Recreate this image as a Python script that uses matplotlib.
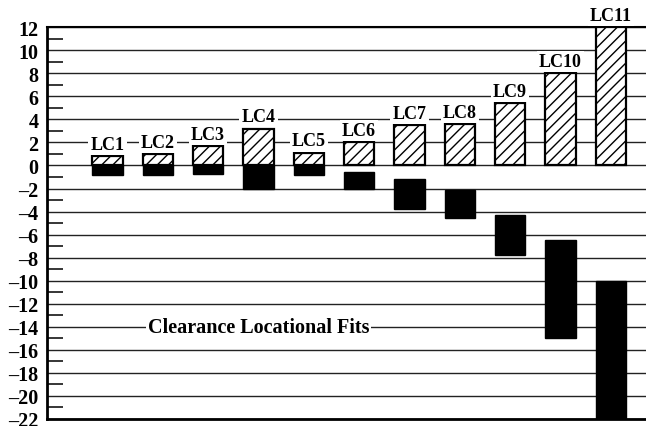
import matplotlib
matplotlib.use("Agg")
import matplotlib.pyplot as plt
from matplotlib.ticker import FixedLocator
import numpy as np

plt.rcParams['font.family'] = ['Liberation Serif', 'DejaVu Serif']
plt.rcParams['font.weight'] = 'bold'
plt.rcParams['hatch.linewidth'] = 1.0

labels = ["LC1", "LC2", "LC3", "LC4", "LC5", "LC6", "LC7", "LC8", "LC9", "LC10", "LC11"]
hole_upper = [0.8, 1.0, 1.7, 3.2, 1.1, 2.0, 3.5, 3.6, 5.4, 8.0, 12.0]
shaft_upper = [0, 0, 0, 0, 0, -0.6, -1.2, -2.1, -4.3, -6.5, -10.0]
shaft_lower = [-0.8, -0.8, -0.7, -2.0, -0.8, -2.0, -3.8, -4.6, -7.8, -15.0, -22.0]
y_ticks = list(range(-22, 13, 2))
title_text = "Clearance Locational Fits"

fig = plt.figure(figsize=(6.46, 4.27), dpi=100)
ax = fig.add_axes([0.0728, 0.0164, 0.9272, 0.9176])

x = np.arange(len(labels))
w = 0.6
ax.bar(x, hole_upper, width=w, bottom=0, facecolor='white', edgecolor='black',
       hatch='///', linewidth=1.6, zorder=3)
ax.bar(x, np.array(shaft_upper) - np.array(shaft_lower), width=w, bottom=shaft_lower,
       facecolor='black', edgecolor='black', linewidth=1.0, zorder=3)

for xi, lab, top in zip(x, labels, hole_upper):
    ax.annotate(lab, xy=(xi, top), xytext=(0, 8.5), textcoords='offset points',
                ha='center', va='center', fontsize=13, fontweight='bold',
                bbox=dict(facecolor='white', edgecolor='none', pad=1.5),
                zorder=5, annotation_clip=False)

ax.text(3.0, -14, title_text, ha='center', va='center', fontsize=14.5, fontweight='bold',
        bbox=dict(facecolor='white', edgecolor='none', pad=1.5), zorder=5)

ax.set_xlim(-1.2, 10.7)
ax.set_ylim(-22, 12)
ax.set_xticks([])
ax.yaxis.set_major_locator(FixedLocator(y_ticks))
ax.yaxis.set_minor_locator(FixedLocator(list(range(-21, 12, 2))))
ax.set_yticklabels([str(v).replace('-', '\u2013') for v in y_ticks])
ax.tick_params(axis='y', which='major', length=0, pad=6, labelsize=14.5)
ax.tick_params(axis='y', which='minor', direction='in', length=11.5, width=1.1, color='black')
for lab in ax.get_yticklabels():
    lab.set_fontweight('bold')

ax.set_axisbelow(True)
ax.yaxis.grid(True, which='major', color='#222222', linewidth=1.0)

ax.spines['right'].set_visible(False)
ax.spines['top'].set_linewidth(1.5)
ax.spines['left'].set_linewidth(2.0)
ax.spines['bottom'].set_linewidth(2.0)

fig.savefig("out.png", dpi=100)
